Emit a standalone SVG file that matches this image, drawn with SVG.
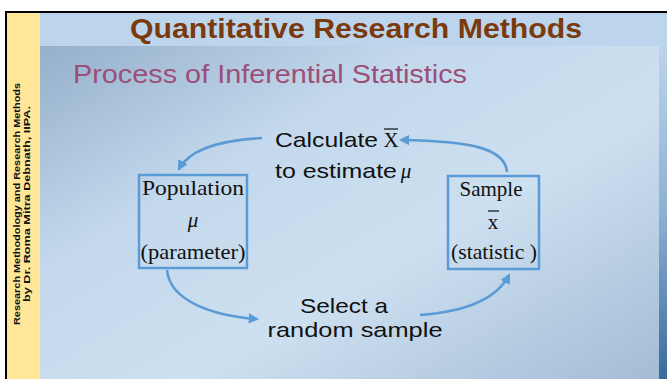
<svg xmlns="http://www.w3.org/2000/svg" width="667" height="379" viewBox="0 0 667 379">
<defs>
<linearGradient id="bg" x1="0" y1="0" x2="1" y2="1">
<stop offset="0" stop-color="#8eaac6"/>
<stop offset="0.35" stop-color="#c3d8ec"/>
<stop offset="0.62" stop-color="#cde0f1"/>
<stop offset="1" stop-color="#a3bbd4"/>
</linearGradient>
<linearGradient id="rs" x1="0" y1="0" x2="0" y2="1">
<stop offset="0" stop-color="#bcd4ea"/>
<stop offset="0.5" stop-color="#8fb0d2"/>
<stop offset="1" stop-color="#3a6a9b"/>
</linearGradient>
<marker id="ah" viewBox="0 0 10 10" refX="8" refY="5" markerWidth="4" markerHeight="4" orient="auto" markerUnits="strokeWidth">
<path d="M0,0 L10,5 L0,10 z" fill="#5b9bd5"/>
</marker>
<style>
.box{fill:none;stroke:#5b9bd5;stroke-width:2.5}
.conn{fill:none;stroke:#5b9bd5;stroke-width:2.6;marker-end:url(#ah)}
.serif{font-family:"Liberation Serif","Times New Roman",serif;font-size:21px;fill:#111;text-anchor:middle}
.sans{font-family:"Liberation Sans",Arial,sans-serif;font-size:21px;fill:#111}
.side{font-family:"Liberation Sans",Arial,sans-serif;font-size:8.8px;font-weight:bold;fill:#111;text-anchor:middle}
</style>
</defs>
<rect x="0" y="0" width="667" height="379" fill="#ffffff"/>
<rect x="40" y="13" width="627" height="366" fill="url(#bg)"/>
<rect x="40" y="13" width="627" height="33" fill="#bcd5ec"/>
<rect x="659" y="46" width="8" height="333" fill="url(#rs)"/>
<rect x="7" y="13" width="33" height="366" fill="#ffe699"/>
<line x1="6" y1="12" x2="667" y2="12" stroke="#000" stroke-width="2"/>
<line x1="6" y1="11" x2="6" y2="379" stroke="#000" stroke-width="2"/>
<text x="356" y="38" font-family="Liberation Sans,Arial,sans-serif" font-size="27" font-weight="bold" fill="#7b3a0e" text-anchor="middle" textLength="452" lengthAdjust="spacingAndGlyphs">Quantitative Research Methods</text>
<text x="73" y="83" font-family="Liberation Sans,Arial,sans-serif" font-size="26" fill="#9b4f78" textLength="394" lengthAdjust="spacingAndGlyphs">Process of Inferential Statistics</text>
<g transform="translate(20,204) rotate(-90)">
<text x="0" y="0" class="side" textLength="242" lengthAdjust="spacingAndGlyphs">Research Methodology and Research Methods</text>
<text x="0" y="10" class="side" textLength="196" lengthAdjust="spacingAndGlyphs">by Dr. Roma Mitra Debnath, IIPA.</text>
</g>
<g id="population">
<rect class="box" x="139" y="175" width="108" height="93"/>
<text class="serif" x="193" y="195" textLength="102" lengthAdjust="spacingAndGlyphs">Population</text>
<text class="serif" x="193" y="227" font-style="italic" font-size="23">μ</text>
<text class="serif" x="193" y="259" textLength="105" lengthAdjust="spacingAndGlyphs">(parameter)</text>
</g>
<g id="sample">
<rect class="box" x="448" y="176" width="91" height="93"/>
<text class="serif" x="491" y="196">Sample</text>
<text class="serif" x="493" y="229">x</text>
<line x1="488" y1="211" x2="499" y2="211" stroke="#111" stroke-width="1.2"/>
<text class="serif" x="494" y="259" textLength="86" lengthAdjust="spacingAndGlyphs">(statistic )</text>
</g>
<g id="calc">
<text class="sans" x="275" y="147" textLength="103" lengthAdjust="spacingAndGlyphs">Calculate</text>
<text class="serif" x="391" y="147" font-size="21">X</text>
<line x1="384" y1="129" x2="398" y2="129" stroke="#111" stroke-width="1.2"/>
<text class="sans" x="275" y="178" textLength="122" lengthAdjust="spacingAndGlyphs">to estimate</text>
<text class="serif" x="406" y="178" font-size="23" font-style="italic">μ</text>
</g>
<g id="select">
<text class="sans" x="344" y="313" text-anchor="middle" textLength="88" lengthAdjust="spacingAndGlyphs">Select a</text>
<text class="sans" x="355" y="337" text-anchor="middle" textLength="175" lengthAdjust="spacingAndGlyphs">random sample</text>
</g>
<g id="connectors">
<path class="conn" d="M262,138 C225,140 190,148 179,169"/>
<path class="conn" d="M507,172 C505,148 470,141 401,140"/>
<path class="conn" d="M167,270 C170,302 215,316 257,319"/>
<path class="conn" d="M420,315 C460,312 495,302 509,275"/>
</g>
</svg>
